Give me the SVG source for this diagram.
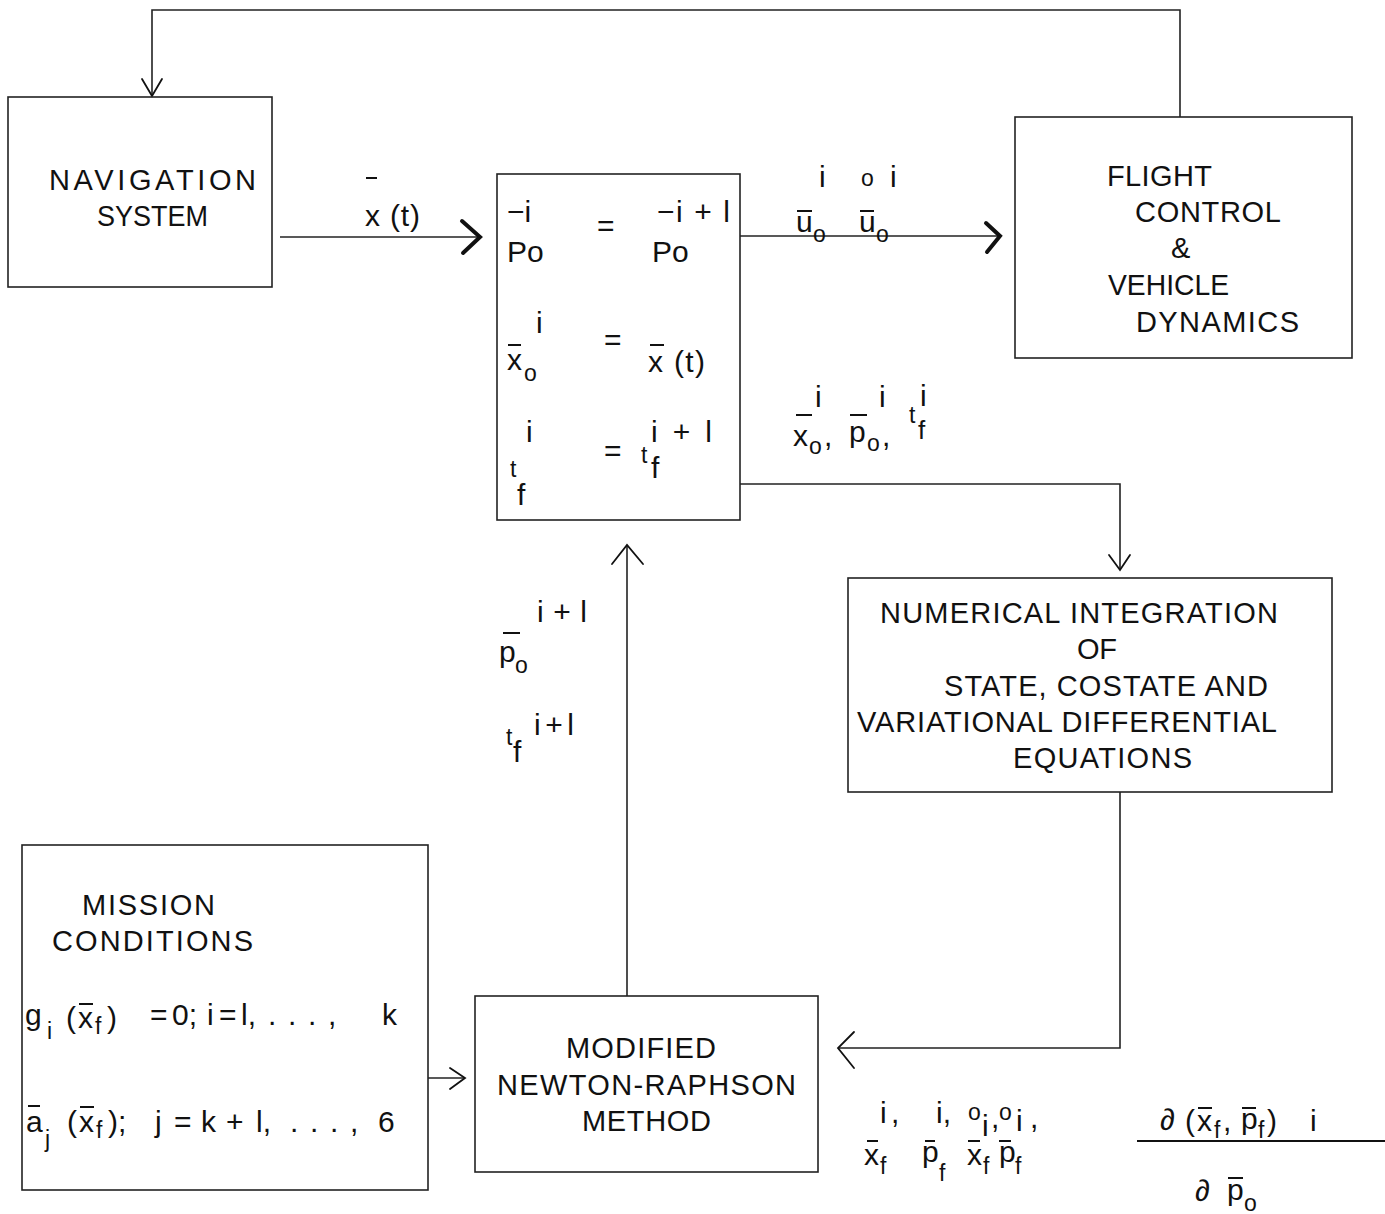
<svg xmlns="http://www.w3.org/2000/svg" width="1385" height="1214" viewBox="0 0 1385 1214">
  <style>
    text { font-family: "Liberation Sans", Arial, sans-serif; fill: #111; }
    .lbl { font-size: 29px; }
    .m { font-size: 30px; }
    .s { font-size: 23px; }
    .box { fill: none; stroke: #222; stroke-width: 1.6; }
    .wire { fill: none; stroke: #222; stroke-width: 1.6; }
    .bar { stroke: #111; stroke-width: 2; }
    .head { fill: none; stroke: #111; stroke-width: 1.8; stroke-linecap: round; stroke-linejoin: miter; }
    .head-bold { fill: none; stroke: #111; stroke-width: 4; stroke-linecap: round; stroke-linejoin: miter; }
  </style>
  <rect width="1385" height="1214" fill="#fff"/>

  <!-- connectors -->
  <g id="connectors">
    <!-- feedback loop from flight control back to navigation -->
    <path class="wire" d="M1180,117 V10 H152 V96"/>
    <polyline class="head" points="142,79 152,96 162,79"/>
    <!-- navigation state to initial conditions -->
    <path class="wire" d="M280,237 H480"/>
    <polyline class="head-bold" points="462,221 480,237 463,253"/>
    <!-- control output to flight control -->
    <path class="wire" d="M740,236 H1000"/>
    <polyline class="head-bold" points="986,223 1000,236 987,252"/>
    <!-- initial conditions to numerical integration -->
    <path class="wire" d="M740,484 H1120 V570"/>
    <polyline class="head" points="1109,555 1120,570 1130,555"/>
    <!-- integration results to Newton-Raphson -->
    <path class="wire" d="M1120,792 V1048 H838"/>
    <polyline class="head" points="854,1032 838,1048 854,1068"/>
    <!-- mission conditions to Newton-Raphson -->
    <path class="wire" d="M428,1078 H465"/>
    <polyline class="head" points="450,1068 465,1078 450,1089"/>
    <!-- corrected costates back to initial conditions -->
    <path class="wire" d="M627,996 V545"/>
    <polyline class="head" points="612,564 627,545 643,564"/>
  </g>

  <!-- navigation system -->
  <g id="navigation">
    <rect class="box" x="8" y="97" width="264" height="190"/>
    <text class="lbl" x="49" y="190" textLength="207" lengthAdjust="spacing">NAVIGATION</text>
    <text class="lbl" x="97" y="226" textLength="111" lengthAdjust="spacingAndGlyphs">SYSTEM</text>
  </g>

  <!-- state estimate label -->
  <g id="label-xt">
    <line class="bar" x1="366" y1="178" x2="377" y2="178"/>
    <text class="m" x="365" y="226" textLength="55" lengthAdjust="spacing">x (t)</text>
  </g>

  <!-- initial condition update -->
  <g id="initial-conditions">
    <rect class="box" x="497" y="174" width="243" height="346"/>
    <text class="m" x="507" y="222">−i</text>
    <text class="m" x="507" y="262">Po</text>
    <text class="m" x="597" y="236">=</text>
    <text class="m" x="657" y="222" textLength="73" lengthAdjust="spacing">−i + l</text>
    <text class="m" x="652" y="262">Po</text>

    <text class="m" x="536" y="333">i</text>
    <line class="bar" x1="508" y1="345" x2="521" y2="345"/>
    <text class="m" x="507" y="370">x</text>
    <text class="s" x="524" y="381">o</text>
    <text class="m" x="604" y="350">=</text>
    <line class="bar" x1="650" y1="345" x2="664" y2="345"/>
    <text class="m" x="648" y="372" textLength="57" lengthAdjust="spacing">x (t)</text>

    <text class="m" x="526" y="442">i</text>
    <text class="s" x="510" y="477">t</text>
    <text class="m" x="517" y="505">f</text>
    <text class="m" x="604" y="461">=</text>
    <text class="m" x="651" y="442" textLength="61" lengthAdjust="spacing">i + l</text>
    <text class="s" x="641" y="463">t</text>
    <text class="m" x="651" y="478">f</text>
  </g>

  <!-- control labels -->
  <g id="label-u">
    <line class="bar" x1="797" y1="211" x2="812" y2="211"/>
    <text class="m" x="819" y="187">i</text>
    <text class="m" x="796" y="232">u</text>
    <text class="s" x="813" y="242">o</text>
    <text class="s" x="861" y="186">o</text>
    <text class="m" x="890" y="187">i</text>
    <line class="bar" x1="860" y1="211" x2="874" y2="211"/>
    <text class="m" x="859" y="232">u</text>
    <text class="s" x="876" y="242">o</text>
  </g>

  <!-- flight control -->
  <g id="flight-control">
    <rect class="box" x="1015" y="117" width="337" height="241"/>
    <text class="lbl" x="1107" y="186" textLength="105" lengthAdjust="spacing">FLIGHT</text>
    <text class="lbl" x="1135" y="222" textLength="146" lengthAdjust="spacing">CONTROL</text>
    <text class="lbl" x="1171" y="258">&amp;</text>
    <text class="lbl" x="1108" y="295" textLength="121" lengthAdjust="spacingAndGlyphs">VEHICLE</text>
    <text class="lbl" x="1136" y="332" textLength="163" lengthAdjust="spacing">DYNAMICS</text>
  </g>

  <!-- integration inputs -->
  <g id="label-inputs">
    <text class="m" x="815" y="407">i</text>
    <line class="bar" x1="796" y1="415" x2="812" y2="415"/>
    <text class="m" x="793" y="446">x</text>
    <text class="s" x="809" y="454">o</text>
    <text class="m" x="824" y="446">,</text>
    <text class="m" x="879" y="407">i</text>
    <line class="bar" x1="850" y1="415" x2="867" y2="415"/>
    <text class="m" x="849" y="442">p</text>
    <text class="s" x="867" y="451">o</text>
    <text class="m" x="882" y="446">,</text>
    <text class="s" x="909" y="423">t</text>
    <text class="m" x="920" y="406">i</text>
    <text class="s" x="918" y="439" style="font-size:26px">f</text>
  </g>

  <!-- numerical integration -->
  <g id="numerical-integration">
    <rect class="box" x="848" y="578" width="484" height="214"/>
    <text class="lbl" x="880" y="623" textLength="398" lengthAdjust="spacing">NUMERICAL INTEGRATION</text>
    <text class="lbl" x="1077" y="659" textLength="40" lengthAdjust="spacing">OF</text>
    <text class="lbl" x="944" y="696" textLength="324" lengthAdjust="spacing">STATE, COSTATE AND</text>
    <text class="lbl" x="857" y="732" textLength="420" lengthAdjust="spacing">VARIATIONAL DIFFERENTIAL</text>
    <text class="lbl" x="1013" y="768" textLength="179" lengthAdjust="spacing">EQUATIONS</text>
  </g>

  <!-- corrected costate label -->
  <g id="label-update">
    <text class="m" x="537" y="622" textLength="50" lengthAdjust="spacing">i + l</text>
    <line class="bar" x1="503" y1="633" x2="520" y2="633"/>
    <text class="m" x="499" y="662">p</text>
    <text class="s" x="515" y="673">o</text>
    <text class="m" x="534" y="735" textLength="40" lengthAdjust="spacing">i + l</text>
    <text class="s" x="506" y="745">t</text>
    <text class="m" x="513" y="762">f</text>
  </g>

  <!-- mission conditions -->
  <g id="mission-conditions">
    <rect class="box" x="22" y="845" width="406" height="345"/>
    <text class="lbl" x="82" y="915" textLength="133" lengthAdjust="spacing">MISSION</text>
    <text class="lbl" x="52" y="951" textLength="201" lengthAdjust="spacing">CONDITIONS</text>

    <text class="m" x="25" y="1025">g</text>
    <text class="s" x="47" y="1039">i</text>
    <text class="m" x="66" y="1028">(</text>
    <line class="bar" x1="79" y1="1004" x2="93" y2="1004"/>
    <text class="m" x="78" y="1028">x</text>
    <text class="s" x="95" y="1034">f</text>
    <text class="m" x="107" y="1028">)</text>
    <text class="m" y="1025"><tspan x="150">=</tspan><tspan x="172">0;</tspan><tspan x="207">i</tspan><tspan x="219">=</tspan><tspan x="241">l,</tspan><tspan x="268">.</tspan><tspan x="288">.</tspan><tspan x="308">.</tspan><tspan x="328">,</tspan><tspan x="382">k</tspan></text>

    <line class="bar" x1="28" y1="1106" x2="40" y2="1106"/>
    <text class="m" x="26" y="1132">a</text>
    <text class="s" x="45" y="1147">j</text>
    <text class="m" x="67" y="1132">(</text>
    <line class="bar" x1="80" y1="1107" x2="94" y2="1107"/>
    <text class="m" x="79" y="1132">x</text>
    <text class="s" x="96" y="1138">f</text>
    <text class="m" x="108" y="1132">);</text>
    <text class="m" y="1132"><tspan x="155">j</tspan><tspan x="174">=</tspan><tspan x="201">k</tspan><tspan x="226">+</tspan><tspan x="256">l,</tspan><tspan x="290">.</tspan><tspan x="310">.</tspan><tspan x="330">.</tspan><tspan x="350">,</tspan><tspan x="378">6</tspan></text>
  </g>

  <!-- modified Newton-Raphson -->
  <g id="newton-raphson">
    <rect class="box" x="475" y="996" width="343" height="176"/>
    <text class="lbl" x="566" y="1058" textLength="150" lengthAdjust="spacing">MODIFIED</text>
    <text class="lbl" x="497" y="1095" textLength="299" lengthAdjust="spacing">NEWTON-RAPHSON</text>
    <text class="lbl" x="582" y="1131" textLength="129" lengthAdjust="spacing">METHOD</text>
  </g>

  <!-- terminal values -->
  <g id="label-terminal">
    <line class="bar" x1="867" y1="1141" x2="878" y2="1141"/>
    <text class="m" x="880" y="1123">i</text>
    <text class="m" x="891" y="1123">,</text>
    <text class="m" x="864" y="1165">x</text>
    <text class="s" x="880" y="1174">f</text>

    <line class="bar" x1="925" y1="1141" x2="935" y2="1141"/>
    <text class="m" x="936" y="1123">i,</text>
    <text class="m" x="922" y="1162">p</text>
    <text class="s" x="939" y="1181">f</text>

    <text class="s" x="968" y="1120">o</text>
    <line class="bar" x1="968" y1="1141" x2="980" y2="1141"/>
    <text class="m" x="982" y="1136">i</text>
    <text class="m" x="991" y="1128">,</text>
    <text class="m" x="967" y="1165">x</text>
    <text class="s" x="983" y="1174">f</text>

    <text class="s" x="999" y="1120">o</text>
    <line class="bar" x1="999" y1="1141" x2="1011" y2="1141"/>
    <text class="m" x="1016" y="1131">i</text>
    <text class="m" x="1030" y="1128">,</text>
    <text class="m" x="999" y="1162">p</text>
    <text class="s" x="1015" y="1174">f</text>
  </g>

  <!-- sensitivity matrix -->
  <g id="label-partials">
    <text class="m" x="1160" y="1130">∂</text>
    <text class="m" x="1185" y="1131">(</text>
    <line class="bar" x1="1198" y1="1108" x2="1212" y2="1108"/>
    <text class="m" x="1197" y="1131">x</text>
    <text class="s" x="1214" y="1138">f</text>
    <text class="m" x="1223" y="1131">,</text>
    <line class="bar" x1="1242" y1="1108" x2="1256" y2="1108"/>
    <text class="m" x="1241" y="1129">p</text>
    <text class="s" x="1258" y="1138">f</text>
    <text class="m" x="1267" y="1131">)</text>
    <text class="m" x="1310" y="1131">i</text>
    <line class="bar" x1="1137" y1="1141" x2="1385" y2="1141"/>
    <text class="m" x="1195" y="1201">∂</text>
    <line class="bar" x1="1228" y1="1178" x2="1243" y2="1178"/>
    <text class="m" x="1227" y="1200">p</text>
    <text class="s" x="1244" y="1211">o</text>
  </g>
</svg>
